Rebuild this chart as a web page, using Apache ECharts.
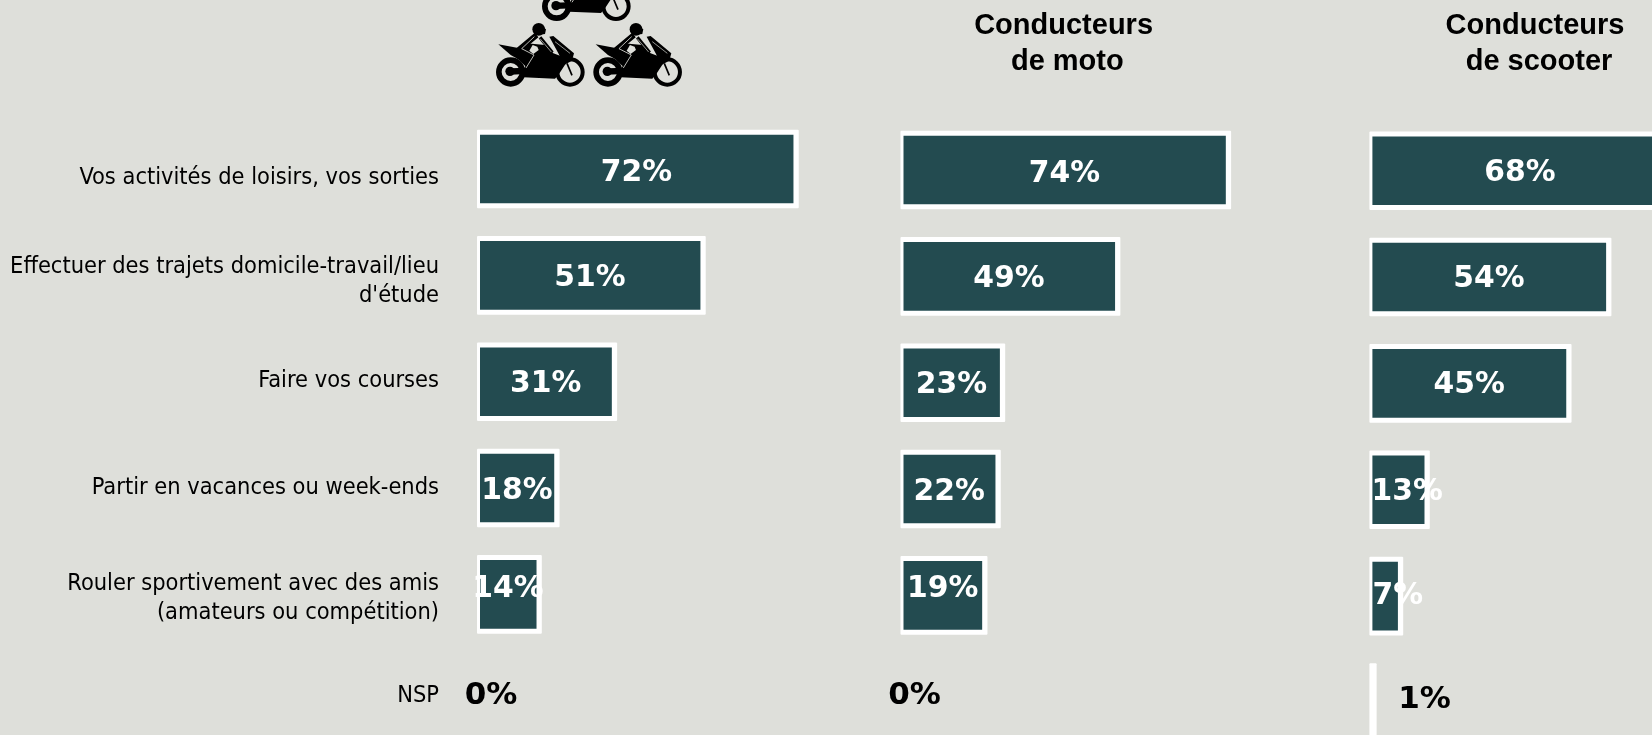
<!DOCTYPE html>
<html><head><meta charset="utf-8">
<style>html,body{margin:0;padding:0;background:#dedfda;overflow:hidden}#c{width:1652px;height:735px}</style>
<script src="https://cdn.jsdelivr.net/npm/echarts@6/dist/echarts.min.js"></script>
</head><body><div id="c"></div>
<script>
const categories = [
  "Vos activités de loisirs, vos sorties",
  "Effectuer des trajets domicile-travail/lieu\nd'étude",
  "Faire vos courses",
  "Partir en vacances ou week-ends",
  "Rouler sportivement avec des amis\n(amateurs ou compétition)",
  "NSP"
];
const ensemble = [72, 51, 31, 18, 14, 0];
const moto = [74, 49, 23, 22, 19, 0];
const scooter = [68, 54, 45, 13, 7, 1];
const titleMoto = ["Conducteurs", "de moto"];
const titleScooter = ["Conducteurs", "de scooter"];

const BG = '#dedfda', DARK = '#234b50', CAT_FONT = '"DejaVu Sans Condensed"';
const panels = [
  {data: ensemble, left: 477, top: 115.8, nudge: [[0,4.5],[0,3],[0,3],[0,3],[0,-5],[14,-5]]},
  {data: moto, left: 900.5, top: 116.8, nudge: [[0,4],[0,3],[0,3],[0,3],[0,-6],[14,-6]]},
  {data: scooter, left: 1369.4, top: 117.5, nudge: [[0,3],[0,2],[0,2],[9,3],[13,0],[53,-2]]}
];
const catShift = [18, 12, -2, -1, 8, -9];

function renderBar(panelIdx) {
  return function (params, api) {
    const i = api.value(1), v = api.value(0);
    const p = api.coord([v, i]), o = api.coord([0, i]);
    const cy = p[1], half = 39.3, b = 5;
    const kids = [];
    if (v > 0) {
      kids.push({type: 'rect', shape: {x: o[0], y: cy - half, width: p[0] + 2.8 - o[0], height: half * 2, r: 1}, style: {fill: '#fff'}});
      const iw = p[0] - 2.5 - (o[0] + 3);
      if (iw > 0) kids.push({type: 'rect', shape: {x: o[0] + 3, y: cy - half + b, width: iw, height: half * 2 - 2 * b}, style: {fill: DARK}});
    }
    const n = panels[panelIdx].nudge[i];
    kids.push({type: 'text', x: (o[0] + p[0]) / 2 + n[0], y: cy + n[1], style: {
      text: v + '%', fontFamily: '"DejaVu Sans"', fontWeight: 'bold', fontSize: i === 5 ? 31 : 29.8,
      fill: i === 5 ? '#000' : '#fff', align: 'center', verticalAlign: 'middle'}});
    return {type: 'group', children: kids};
  };
}

function bike(dx, dy) {
  const K = '#000';
  const kids = [
    {type: 'ring', shape: {cx: 62, cy: 216, r: 44, r0: 27}, style: {fill: K}},
    {type: 'circle', shape: {cx: 60, cy: 214, r: 14}, style: {fill: K}},
    {type: 'polygon', shape: {points: [[60,205],[110,203],[110,222],[60,224]]}, style: {fill: K}},
    {type: 'ring', shape: {cx: 240, cy: 216, r: 44, r0: 32}, style: {fill: K}},
    {type: 'line', shape: {x1: 231, y1: 190, x2: 246, y2: 226}, style: {stroke: K, lineWidth: 5}},
    {type: 'polygon', shape: {points: [[25,133],[105,148],[85,178],[62,165]]}, style: {fill: K}},
    {type: 'polygon', shape: {points: [[78,172],[110,130],[165,135],[190,160],[222,172],[228,190],[207,222],[195,236],[100,232],[108,200]]}, style: {fill: K}},
    {type: 'polygon', shape: {points: [[178,110],[190,108],[252,160],[246,182],[222,195],[205,160]]}, style: {fill: K}},
    {type: 'polyline', shape: {points: [[195,125],[240,160]]}, style: {stroke: BG, lineWidth: 2, fill: 'none'}},
    {type: 'circle', shape: {cx: 146, cy: 88, r: 19}, style: {fill: K}},
    {type: 'polygon', shape: {points: [[150,75],[168,88],[165,102],[148,104]]}, style: {fill: K}},
    {type: 'polyline', shape: {points: [[140,105],[88,148],[135,172],[110,208]]}, style: {stroke: K, lineWidth: 17, fill: 'none'}},
    {type: 'polyline', shape: {points: [[150,112],[187,158]]}, style: {stroke: K, lineWidth: 10, fill: 'none'}},
    {type: 'polygon', shape: {points: [[128,135],[142,140],[146,150],[130,162],[118,152]]}, style: {fill: BG}},
    {type: 'polyline', shape: {points: [[133,110],[95,146],[132,165],[108,204]]}, style: {stroke: BG, lineWidth: 2.5, fill: 'none'}},
    {type: 'polyline', shape: {points: [[150,116],[184,156]]}, style: {stroke: BG, lineWidth: 2, fill: 'none'}}
  ];
  return {type: 'group', x: 490 + dx, y: dy, scaleX: 1 / 3, scaleY: 1 / 3, silent: true, children: kids};
}

function titleItem(text, cx, top) {
  return {text: text, left: cx, top: top, textAlign: 'center', padding: 0,
    textStyle: {fontFamily: '"Liberation Sans"', fontWeight: 'bold', fontSize: 29, color: '#000'}};
}

const rich = {n: {fontFamily: CAT_FONT, fontSize: 23.4, color: '#000', lineHeight: 28.4, align: 'right'}};
catShift.forEach((s, i) => {
  rich['s' + i] = {fontSize: 1, lineHeight: Math.abs(s), align: 'right', color: 'rgba(0,0,0,0)'};
});

const option = {
  backgroundColor: BG,
  animation: false,
  title: [
    titleItem(titleMoto[0], 1063.6, 11), titleItem(titleMoto[1], 1067.3, 47),
    titleItem(titleScooter[0], 1535, 11), titleItem(titleScooter[1], 1539, 47)
  ],
  grid: panels.map(p => ({left: p.left, top: p.top, width: 443, height: 638.1, outerBoundsMode: 'none', containLabel: false})),
  xAxis: panels.map((p, i) => ({type: 'value', gridIndex: i, min: 0, max: 100, show: false})),
  yAxis: panels.map((p, i) => ({
    type: 'category', gridIndex: i, inverse: true, data: categories,
    axisLine: {show: false}, axisTick: {show: false},
    axisLabel: i === 0 ? {
      show: true, margin: 38, align: 'right', interval: 0,
      formatter: function (val) {
        const k = categories.indexOf(val);
        const body = val.split('\n').map(l => '{n|' + l + '}');
        const sp = '{s' + k + '| }';
        return (catShift[k] > 0 ? [sp].concat(body) : body.concat([sp])).join('\n');
      },
      rich: rich
    } : {show: false}
  })),
  series: panels.map((p, i) => ({
    type: 'custom', xAxisIndex: i, yAxisIndex: i, clip: false,
    renderItem: renderBar(i),
    encode: {x: 0, y: 1},
    data: p.data.map((v, k) => [v, k])
  })),
  graphic: [bike(0, 0), bike(97.3, 0), bike(46, -65.7)]
};
echarts.init(document.getElementById('c')).setOption(option);
</script></body></html>
